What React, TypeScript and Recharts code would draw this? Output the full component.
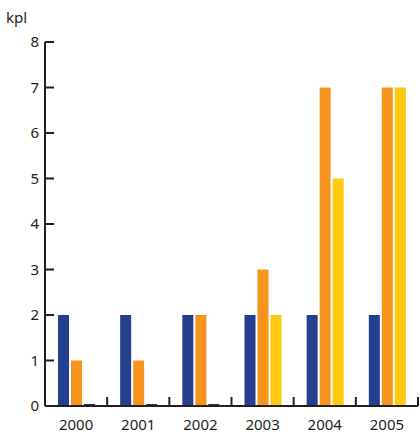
import { BarChart, Bar, XAxis, YAxis } from "recharts";

const years = ["2000", "2001", "2002", "2003", "2004", "2005"];
const blueValues = [2, 2, 2, 2, 2, 2];
const orangeValues = [1, 1, 2, 3, 7, 7];
const yellowValues = [0, 0, 0, 2, 5, 7];
const yTicks = [0, 1, 2, 3, 4, 5, 6, 7, 8];

const data = years.map((year, i) => ({
  year,
  blue: blueValues[i],
  orange: orangeValues[i],
  yellow: yellowValues[i],
}));

const WIDTH = 420;
const HEIGHT = 434;
const LEFT = 45;
const RIGHT = 2;
const INK = "#231f20";
const FONT = "'Noto Sans', sans-serif";
const HALF_BAND = (WIDTH - LEFT - RIGHT) / years.length / 2;

const YTick = (props: any) => {
  const { x, y, payload } = props;
  return (
    <g>
      <line x1={x} x2={x + 9} y1={y} y2={y} stroke={INK} strokeWidth={2} />
      <text x={x - 6} y={y} dy={5} textAnchor="end" fontSize={15} fill={INK} fontFamily={FONT}>
        {payload.value}
      </text>
    </g>
  );
};

const XTick = (props: any) => {
  const { x, y, payload } = props;
  return (
    <g>
      <line x1={x + HALF_BAND} x2={x + HALF_BAND} y1={y} y2={y - 9} stroke={INK} strokeWidth={2} />
      <text x={x} y={y + 19} dy={5} textAnchor="middle" fontSize={15} fill={INK} fontFamily={FONT}>
        {payload.value}
      </text>
    </g>
  );
};

const ZeroAwareBar = (props: any) => {
  const { x, y, width, height, fill, value } = props;
  if (!value) {
    return <rect x={x} y={y - 2} width={width} height={3} fill="#333" />;
  }
  return <rect x={x} y={y} width={width} height={height} fill={fill} />;
};

export default function App() {
  return (
    <div style={{ position: "absolute", left: 0, top: 0, width: WIDTH, height: HEIGHT, background: "#fff" }}>
      <div
        style={{
          position: "absolute",
          left: 6,
          top: 7,
          fontFamily: FONT,
          fontSize: 15,
          color: INK,
        }}
      >
        kpl
      </div>
      <BarChart
        width={WIDTH}
        height={HEIGHT}
        data={data}
        margin={{ top: 42, right: RIGHT, bottom: 0, left: 0 }}
        barSize={11}
        barGap={2}
      >
        <XAxis
          dataKey="year"
          height={28}
          axisLine={{ stroke: INK, strokeWidth: 2 }}
          tickLine={false}
          tickSize={0}
          tickMargin={0}
          tick={<XTick />}
          interval={0}
        />
        <YAxis
          width={LEFT}
          domain={[0, 8]}
          ticks={yTicks}
          axisLine={{ stroke: INK, strokeWidth: 2 }}
          tickLine={false}
          tickSize={0}
          tickMargin={0}
          tick={<YTick />}
          interval={0}
        />
        <Bar dataKey="blue" fill="#253e8f" isAnimationActive={false} />
        <Bar dataKey="orange" fill="#f7941d" isAnimationActive={false} />
        <Bar dataKey="yellow" fill="#ffc90e" isAnimationActive={false} shape={<ZeroAwareBar />} />
      </BarChart>
    </div>
  );
}
